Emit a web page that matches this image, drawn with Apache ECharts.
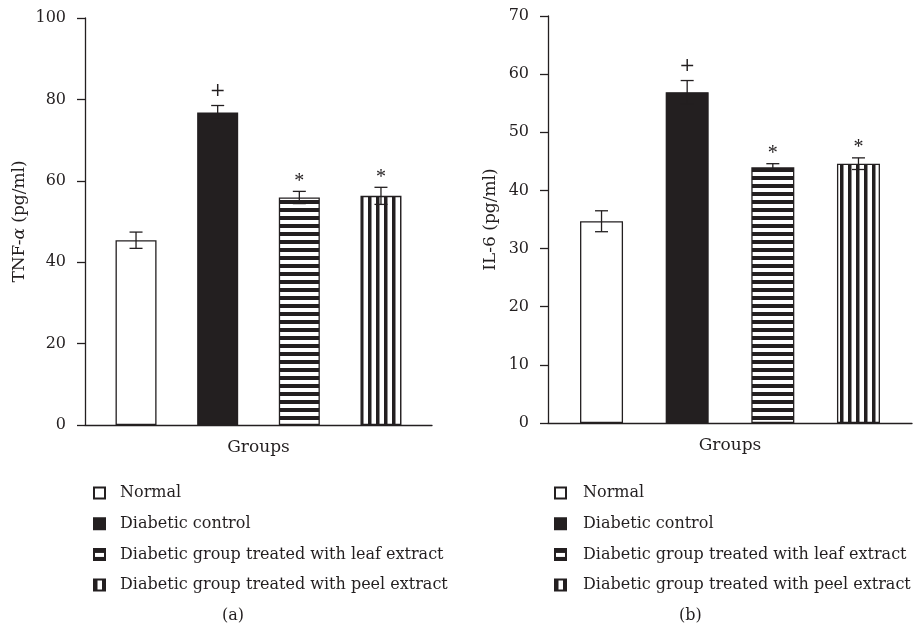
<!DOCTYPE html>
<html>
<head>
<meta charset="utf-8">
<script src="https://cdn.jsdelivr.net/npm/echarts@6/dist/echarts.min.js"></script>
<style>
  html, body { margin: 0; padding: 0; background: #fff; }
  #chart { width: 916px; height: 633px; }
</style>
</head>
<body>
<div id="chart"></div>
<script>
// groups shown in both panels
const groups = [
    'Normal',
    'Diabetic control',
    'Diabetic group treated with leaf extract',
    'Diabetic group treated with peel extract'
];
// panel (a): TNF-alpha, mean and error
const tnfMean = [45.4, 76.8, 55.9, 56.3];
const tnfErr = [2.0, 1.7, 1.5, 2.1];
const tnfMarks = ['', '+', '*', '*'];
// panel (b): IL-6, mean and error
const il6Mean = [34.7, 56.9, 44.0, 44.6];
const il6Err = [1.8, 2.0, 0.6, 1.0];
const il6Marks = ['', '+', '*', '*'];
// y axis ranges
const tnfAxis = { min: 0, max: 100, interval: 20 };
const il6Axis = { min: 0, max: 70, interval: 10 };
const panelLabels = ['(a)', '(b)'];

const INK = '#231f20';
const FONT = '"DejaVu Serif", "Liberation Serif", serif';

function stripes(horizontal) {
    const c = document.createElement('canvas');
    c.width = 8; c.height = 8;
    const ctx = c.getContext('2d');
    ctx.fillStyle = '#fff';
    ctx.fillRect(0, 0, 8, 8);
    ctx.fillStyle = INK;
    if (horizontal) ctx.fillRect(0, 0, 8, 4);
    else ctx.fillRect(0, 0, 3.5, 8);
    return { image: c, repeat: 'repeat' };
}

const fills = ['#fff', INK, stripes(true), stripes(false)];

const chart = echarts.init(document.getElementById('chart'), null, { renderer: 'canvas' });

function barSeries(means, axisIdx, barWidth) {
    return groups.map((g, i) => ({
        name: g,
        type: 'bar',
        xAxisIndex: axisIdx,
        yAxisIndex: axisIdx,
        barWidth: barWidth,
        barGap: '-100%',
        data: [[i, means[i]]],
        itemStyle: { color: fills[i], borderColor: INK, borderWidth: 1.3 },
        emphasis: { disabled: true },
        z: 2
    }));
}

function errorSeries(means, errs, marks, axisIdx) {
    return {
        type: 'custom',
        xAxisIndex: axisIdx,
        yAxisIndex: axisIdx,
        data: means.map((m, i) => [i, m, errs[i]]),
        z: 5,
        silent: true,
        renderItem: (params, api) => {
            const x = api.value(0), m = api.value(1), e = api.value(2);
            const top = api.coord([x, m + e]);
            const bot = api.coord([x, m - e]);
            const hw = 6.5;
            const st = { stroke: INK, lineWidth: 1.3 };
            const mark = marks[params.dataIndex];
            return {
                type: 'group',
                children: [
                    { type: 'line', shape: { x1: top[0], y1: top[1], x2: bot[0], y2: bot[1] }, style: st },
                    { type: 'line', shape: { x1: top[0] - hw, y1: top[1], x2: top[0] + hw, y2: top[1] }, style: st },
                    { type: 'line', shape: { x1: bot[0] - hw, y1: bot[1], x2: bot[0] + hw, y2: bot[1] }, style: st },
                    {
                        type: 'text',
                        style: {
                            text: mark,
                            x: top[0], y: top[1] - (mark === '*' ? 10 : 14),
                            align: 'center', verticalAlign: 'middle',
                            font: mark === '*' ? '20px "Liberation Serif", serif' : '19px "DejaVu Serif", serif',
                            fill: INK
                        }
                    }
                ]
            };
        }
    };
}

function yAxisOf(range, gridIdx, name, nameGap) {
    return {
        type: 'value',
        gridIndex: gridIdx,
        min: range.min, max: range.max, interval: range.interval,
        axisLine: { show: true, onZero: false, lineStyle: { color: INK, width: 1.3 } },
        axisTick: { show: true, length: 8, lineStyle: { color: INK, width: 1.3 } },
        axisLabel: { color: INK, fontFamily: FONT, fontSize: 16, margin: 19 },
        splitLine: { show: false },
        name: name,
        nameLocation: 'middle',
        nameGap: nameGap,
        nameTextStyle: {
            color: INK, fontFamily: FONT, fontSize: 17,
            rich: {
                n: { color: INK, fontFamily: FONT, fontSize: 17 },
                i: { color: INK, fontFamily: FONT, fontSize: 17, fontStyle: 'italic' }
            }
        }
    };
}

function xAxisOf(gridIdx) {
    return {
        type: 'value',
        gridIndex: gridIdx,
        min: -0.625, max: 3.625,
        axisLine: { show: true, lineStyle: { color: INK, width: 1.3 } },
        axisTick: { show: false },
        axisLabel: { show: false },
        splitLine: { show: false },
        name: 'Groups',
        nameLocation: 'middle',
        nameGap: 14,
        nameTextStyle: { color: INK, fontFamily: FONT, fontSize: 17 }
    };
}

function legendOf(left, padLeft) {
    return {
        orient: 'vertical',
        left: left,
        top: 479,
        icon: 'rect',
        itemWidth: 11,
        itemHeight: 11,
        itemGap: 12.7,
        selectedMode: false,
        data: groups,
        textStyle: { color: INK, fontFamily: FONT, fontSize: 16, lineHeight: 18, padding: [0, 0, 0, padLeft] }
    };
}

chart.setOption({
    backgroundColor: '#fff',
    animation: false,
    grid: [
        { left: 85, top: 18, width: 347, height: 407 },
        { left: 548, top: 16, width: 364, height: 407 }
    ],
    xAxis: [xAxisOf(0), xAxisOf(1)],
    yAxis: [
        yAxisOf(tnfAxis, 0, '{n|TNF-}{i|α}{n| (pg/ml)}', 57),
        yAxisOf(il6Axis, 1, 'IL-6 (pg/ml)', 49)
    ],
    legend: [legendOf(88, 10), legendOf(549, 12)],
    graphic: [
        { type: 'text', left: 222, top: 608, style: { text: panelLabels[0], font: '16px ' + FONT, fill: INK } },
        { type: 'text', left: 679, top: 608, style: { text: panelLabels[1], font: '16px ' + FONT, fill: INK } }
    ],
    series: [
        ...barSeries(tnfMean, 0, 41),
        errorSeries(tnfMean, tnfErr, tnfMarks, 0),
        ...barSeries(il6Mean, 1, 43),
        errorSeries(il6Mean, il6Err, il6Marks, 1)
    ]
});
</script>
</body>
</html>
